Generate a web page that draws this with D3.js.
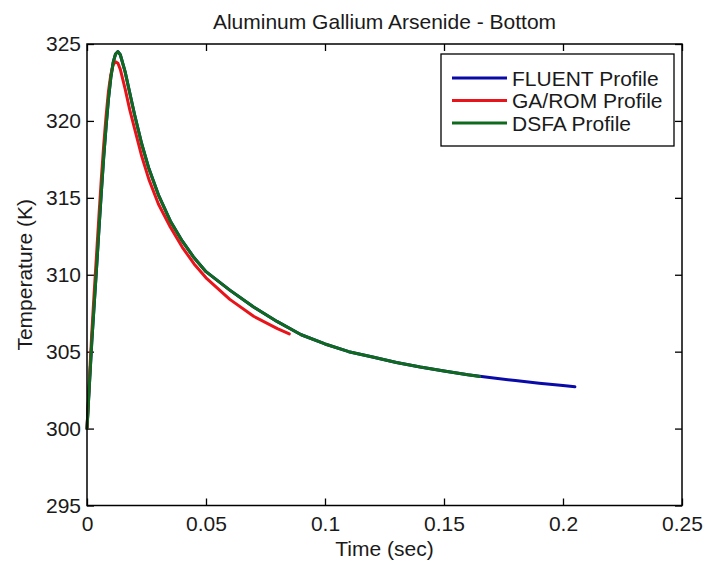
<!DOCTYPE html>
<html>
<head>
<meta charset="utf-8">
<script src="https://cdn.jsdelivr.net/npm/d3@7/dist/d3.min.js"></script>
<style>
  html, body { margin: 0; padding: 0; background: #fff; }
  svg { display: block; }
  text { font-family: "Liberation Sans", Arial, Helvetica, sans-serif; fill: #1a1a1a; }
</style>
</head>
<body>
<svg id="chart" width="707" height="562"></svg>
<script>
// Time samples (s) and temperatures (K) for each profile
const fluentTime = [0, 0.001, 0.002, 0.003, 0.004, 0.005, 0.006, 0.007, 0.008, 0.009, 0.010, 0.011, 0.012, 0.013, 0.014, 0.016, 0.018, 0.020, 0.023, 0.026, 0.030, 0.035, 0.040, 0.045, 0.050, 0.060, 0.070, 0.080, 0.090, 0.100, 0.110, 0.120, 0.130, 0.140, 0.150, 0.160, 0.170, 0.180, 0.190, 0.200, 0.205];
const fluentTemp = [300.0, 302.8, 305.6, 308.0, 310.4, 312.9, 315.3, 317.6, 319.6, 321.4, 322.8, 323.8, 324.35, 324.5, 324.3, 323.2, 321.8, 320.4, 318.5, 316.9, 315.2, 313.5, 312.2, 311.1, 310.2, 309.0, 307.9, 306.95, 306.1, 305.5, 305.0, 304.65, 304.3, 304.0, 303.75, 303.5, 303.3, 303.12, 302.95, 302.8, 302.72];

const garomTime = [0, 0.001, 0.002, 0.003, 0.004, 0.005, 0.006, 0.007, 0.008, 0.009, 0.010, 0.011, 0.012, 0.013, 0.014, 0.016, 0.018, 0.020, 0.023, 0.026, 0.030, 0.035, 0.040, 0.045, 0.050, 0.060, 0.070, 0.080, 0.085];
const garomTemp = [300.0, 303.2, 306.2, 308.8, 311.3, 313.8, 316.2, 318.4, 320.3, 321.9, 323.0, 323.65, 323.85, 323.75, 323.35, 322.1, 320.7, 319.5, 317.7, 316.2, 314.6, 313.1, 311.8, 310.7, 309.8, 308.4, 307.3, 306.5, 306.15];

const dsfaTime = [0, 0.001, 0.002, 0.003, 0.004, 0.005, 0.006, 0.007, 0.008, 0.009, 0.010, 0.011, 0.012, 0.013, 0.014, 0.016, 0.018, 0.020, 0.023, 0.026, 0.030, 0.035, 0.040, 0.045, 0.050, 0.060, 0.070, 0.080, 0.090, 0.100, 0.110, 0.120, 0.130, 0.140, 0.150, 0.160, 0.165];
const dsfaTemp = [300.0, 302.8, 305.6, 308.0, 310.4, 312.9, 315.3, 317.6, 319.6, 321.4, 322.8, 323.8, 324.35, 324.5, 324.3, 323.2, 321.8, 320.4, 318.5, 316.9, 315.2, 313.5, 312.2, 311.1, 310.2, 309.0, 307.9, 306.95, 306.1, 305.5, 305.0, 304.65, 304.3, 304.0, 303.75, 303.5, 303.38];

const xTicks = [0, 0.05, 0.1, 0.15, 0.2, 0.25];
const yTicks = [295, 300, 305, 310, 315, 320, 325];

const seriesNames = ["FLUENT Profile", "GA/ROM Profile", "DSFA Profile"];
const seriesColors = ["#0a0aa8", "#e8141a", "#0f6a1e"];

const series = [
  { name: seriesNames[0], color: seriesColors[0], t: fluentTime, v: fluentTemp },
  { name: seriesNames[1], color: seriesColors[1], t: garomTime, v: garomTemp },
  { name: seriesNames[2], color: seriesColors[2], t: dsfaTime, v: dsfaTemp }
];

const svg = d3.select("#chart");
const plotLeft = 87, plotRight = 682, plotTop = 44, plotBottom = 505.5;

const x = d3.scaleLinear().domain([0, 0.25]).range([plotLeft, plotRight]);
const y = d3.scaleLinear().domain([295, 325]).range([plotBottom, plotTop]);

const fmtX = d => d === 0 ? "0" : String(+d.toFixed(2));
const tickLen = 7;
const fontSize = 21;

// Inward ticks on all four sides, labels bottom and left
const axisBottom = d3.axisBottom(x).tickValues(xTicks).tickSize(-tickLen).tickPadding(11).tickFormat(fmtX);
const axisTop = d3.axisTop(x).tickValues(xTicks).tickSize(-tickLen).tickFormat("");
const axisLeft = d3.axisLeft(y).tickValues(yTicks).tickSize(-tickLen).tickPadding(6).tickFormat(d3.format("d"));
const axisRight = d3.axisRight(y).tickValues(yTicks).tickSize(-tickLen).tickFormat("");

function styleAxis(g) {
  g.select(".domain").remove();
  g.selectAll(".tick line").attr("stroke", "#000").attr("stroke-width", 1.3);
  g.selectAll(".tick text")
    .attr("font-family", "'Liberation Sans', Arial, sans-serif")
    .attr("font-size", fontSize)
    .attr("fill", "#1a1a1a");
}

svg.append("g").attr("transform", `translate(0,${plotBottom})`).call(axisBottom).call(styleAxis);
svg.append("g").attr("transform", `translate(0,${plotTop})`).call(axisTop).call(styleAxis);
svg.append("g").attr("transform", `translate(${plotLeft},0)`).call(axisLeft).call(styleAxis);
svg.append("g").attr("transform", `translate(${plotRight},0)`).call(axisRight).call(styleAxis);

// Profiles
const line = d3.line().x(d => x(d[0])).y(d => y(d[1]));
const plot = svg.append("g");
series.forEach(s => {
  plot.append("path")
    .datum(s.t.map((t, i) => [t, s.v[i]]))
    .attr("d", line)
    .attr("fill", "none")
    .attr("stroke", s.color)
    .attr("stroke-width", 3)
    .attr("stroke-linejoin", "round")
    .attr("stroke-linecap", "round");
});

// Plot frame
svg.append("rect")
  .attr("x", plotLeft).attr("y", plotTop)
  .attr("width", plotRight - plotLeft).attr("height", plotBottom - plotTop)
  .attr("fill", "none").attr("stroke", "#000").attr("stroke-width", 1.5);

// Title and axis labels
svg.append("text")
  .attr("x", (plotLeft + plotRight) / 2).attr("y", 29)
  .attr("text-anchor", "middle").attr("font-size", fontSize)
  .text("Aluminum Gallium Arsenide - Bottom");

svg.append("text")
  .attr("x", (plotLeft + plotRight) / 2).attr("y", 556)
  .attr("text-anchor", "middle").attr("font-size", fontSize)
  .text("Time (sec)");

svg.append("text")
  .attr("transform", `translate(32,${(plotTop + plotBottom) / 2}) rotate(-90)`)
  .attr("text-anchor", "middle").attr("font-size", fontSize)
  .text("Temperature (K)");

// Legend
const lg = svg.append("g");
lg.append("rect")
  .attr("x", 441).attr("y", 54).attr("width", 233).attr("height", 92)
  .attr("fill", "#fff").attr("stroke", "#000").attr("stroke-width", 1.3);
series.forEach((s, i) => {
  const cy = 78 + i * 22.5;
  lg.append("line")
    .attr("x1", 452).attr("x2", 507).attr("y1", cy).attr("y2", cy)
    .attr("stroke", s.color).attr("stroke-width", 3);
  lg.append("text")
    .attr("x", 512).attr("y", cy).attr("dy", "0.36em")
    .attr("font-size", fontSize)
    .text(s.name);
});
</script>
</body>
</html>
